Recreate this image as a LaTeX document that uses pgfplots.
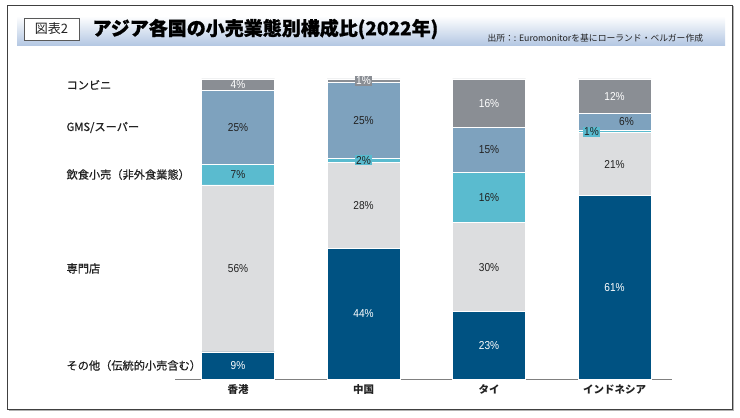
\documentclass[border=0pt]{standalone}
\usepackage{fontspec}
\setmainfont{Noto Sans CJK JP}
\newfontfamily\numfont{Liberation Sans}[FakeStretch=0.88]
\newfontfamily\medfont{Noto Sans CJK JP}[FakeBold=0.7]
\newfontfamily\heavy{Noto Sans CJK JP}[BoldFeatures={FakeBold=0.8}]
\usepackage{pgfplots}
\usepackage{pgfplotstable}
\pgfplotsset{compat=1.18}
\definecolor{cdark}{RGB}{0,82,130}
\definecolor{clight}{RGB}{220,221,223}
\definecolor{ccyan}{RGB}{90,187,207}
\definecolor{csteel}{RGB}{126,162,190}
\definecolor{cgray}{RGB}{138,142,148}
\definecolor{band}{RGB}{178,198,226}
\definecolor{txt}{RGB}{34,34,34}

\pgfplotstableread{
x v lab
0 9.0 9
1 43.6 44
2 22.4 23
3 61.1 61
}\tother
\pgfplotstableread{
x v lab
0 55.7 56
1 28.5 28
2 29.8 30
3 21.0 21
}\tspec
\pgfplotstableread{
x v lab
0 6.9 7
1 1.5 2
2 16.7 16
3 0.7 1
}\tfood
\pgfplotstableread{
x v lab
0 24.5 25
1 25.2 25
2 15.0 15
3 5.8 6
}\tgms
\pgfplotstableread{
x v lab
0 3.9 4
1 1.2 1
2 16.1 16
3 11.4 12
}\tconv

\pgfplotsset{
  segbase/.style={
    draw=white, line width=0.6pt,
    nodes near coords={\pgfplotspointmeta\%},
    point meta=explicit symbolic,
    visualization depends on={rawx \as \xx},
    every node near coord/.append style={anchor=center,
      inner sep=1pt, font=\numfont\fontsize{11.5}{12}\selectfont}
  }
}

\begin{document}
\begin{tikzpicture}
\path[use as bounding box] (0pt,0pt) rectangle (740pt,418pt);
% frame
\draw[gray!60, line width=1.6pt] (8.5pt,7.5pt) -- (733.5pt,7.5pt) -- (733.5pt,412pt);
\draw[gray!50!black, line width=0.8pt] (7pt,9pt) rectangle (732pt,413pt);
% title band
\shade[top color=white, bottom color=band] (17pt,372pt) rectangle (725pt,402pt);
\draw[gray!70!black, fill=white, line width=0.6pt] (24pt,378pt) rectangle (79pt,400pt);
\node[font=\fontsize{13}{14}\selectfont, text=txt] at (51.5pt,389pt) {図表2};
\node[anchor=west, font=\heavy\bfseries\fontsize{19}{21}\selectfont, text=black] at (89pt,389pt) {アジア各国の小売業態別構成比(2022年)};
\node[anchor=base west, font=\fontsize{8.8}{10}\selectfont, text=txt] at (484pt,376pt) {出所：: Euromonitorを基にローランド・ベルガー作成};

\begin{axis}[
  at={(175.25pt,39pt)}, anchor=south west,
  scale only axis, width=497pt, height=300pt,
  xmin=-0.5, xmax=3.46, ymin=0, ymax=100,
  ybar stacked, bar width=73pt,
  axis x line=bottom, axis y line=none,
  x axis line style={-, draw=gray, line width=0.6pt},
  xtick={0,1,2,3},
  xticklabels={香港,中国,タイ,インドネシア},
  major tick length=0pt,
  xticklabel style={font=\bfseries\fontsize{10.5}{12}\selectfont, text=txt, yshift=-2pt},
  clip=false,
]
\addplot[segbase, fill=cdark, every node near coord/.append style={text=white}]
  table[x=x, y=v, meta=lab] {\tother};
\addplot[segbase, fill=clight, every node near coord/.append style={text=txt}]
  table[x=x, y=v, meta=lab] {\tspec};
\addplot[segbase, fill=ccyan, every node near coord/.append style={text=txt, fill=ccyan, xshift={(\xx==3)*(-23pt)}}]
  table[x=x, y=v, meta=lab] {\tfood};
\addplot[segbase, fill=csteel, every node near coord/.append style={text=txt, xshift={(\xx==3)*12pt}}]
  table[x=x, y=v, meta=lab] {\tgms};
\addplot[segbase, fill=cgray, every node near coord/.append style={text=white, fill=cgray}]
  table[x=x, y=v, meta=lab] {\tconv};

\node[anchor=west, font=\medfont\fontsize{11.2}{12}\selectfont, text=txt] at (axis cs:-1.394,98.05) {コンビニ};
\node[anchor=west, font=\medfont\fontsize{11.2}{12}\selectfont, text=txt] at (axis cs:-1.394,83.85) {GMS/スーパー};
\node[anchor=west, font=\medfont\fontsize{11.2}{12}\selectfont, text=txt] at (axis cs:-1.394,68.15) {飲食小売（非外食業態）};
\node[anchor=west, font=\medfont\fontsize{11.2}{12}\selectfont, text=txt] at (axis cs:-1.394,36.85) {専門店};
\node[anchor=west, font=\medfont\fontsize{11.2}{12}\selectfont, text=txt] at (axis cs:-1.394,4.5) {その他（伝統的小売含む）};
\end{axis}
\end{tikzpicture}
\end{document}
